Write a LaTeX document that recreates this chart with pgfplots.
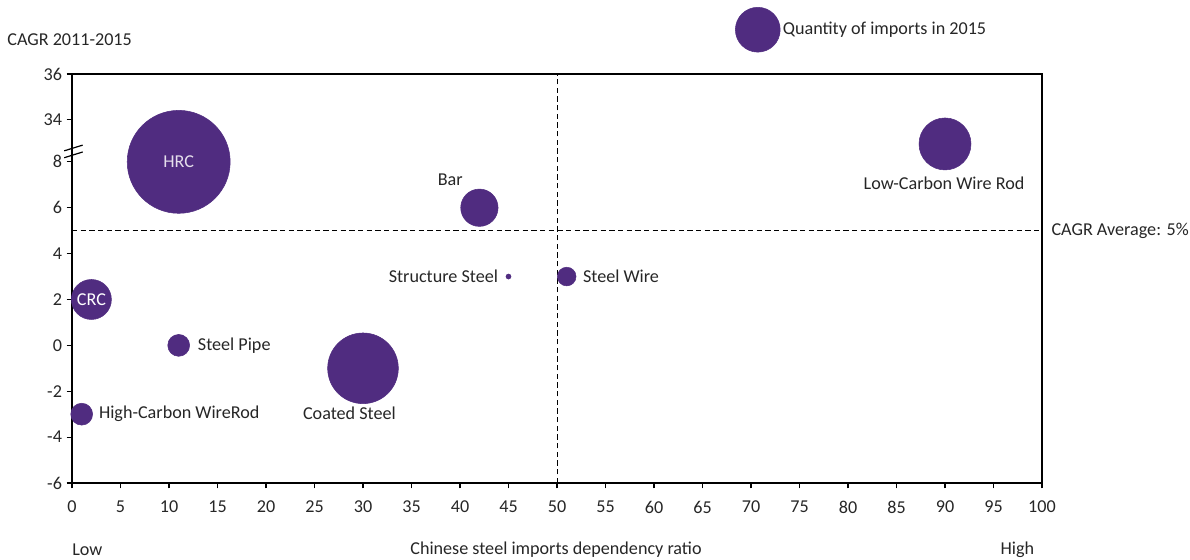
\documentclass[border=0pt]{standalone}
\usepackage{pgfplots}
\pgfplotsset{compat=1.18}
\usepackage{fontspec}
\setmainfont{Carlito}
\definecolor{bub}{RGB}{80,44,128}
\definecolor{txt}{RGB}{38,38,38}
\begin{document}
\begin{tikzpicture}[font=\fontsize{13.6}{16}\selectfont]
\useasboundingbox (-54pt,-57.75pt) rectangle ++(892.5pt,420pt);
\begin{axis}[
  scale only axis,
  width=727.5pt, height=306.75pt,
  xmin=0, xmax=100, ymin=-6, ymax=11.83,
  xtick={0,5,...,100},
  ytick={-6,-4,-2,0,2,4,6,8,9.83,11.83},
  yticklabels={-6,-4,-2,0,2,4,6,8,34,36},
  /pgf/number format/assume math mode=true,
  tick align=outside,
  major tick length=4pt,
  tick style={black, line width=0.9pt},
  axis line style={black, line width=0.9pt},
  xtick pos=bottom, ytick pos=left,
  ticklabel style={text=txt, font=\fontsize{13.6}{16}\selectfont},
  xticklabel style={yshift=-6pt},
  clip=false,
]
% reference lines
\draw[dashed, black, line width=0.5pt, dash pattern=on 4pt off 2.5pt] (axis cs:0,5) -- (axis cs:100,5);
\draw[dashed, black, line width=0.5pt, dash pattern=on 4pt off 2.5pt] (axis cs:50,-6) -- (axis cs:50,11.83);
% bubbles
\addplot[only marks, mark=*, mark size=38.6pt, color=bub] coordinates {(11,8)};
\addplot[only marks, mark=*, mark size=19.5pt, color=bub] coordinates {(90,8.78)};
\addplot[only marks, mark=*, mark size=14pt, color=bub] coordinates {(42,6)};
\addplot[only marks, mark=*, mark size=1.9pt, color=bub] coordinates {(45,3)};
\addplot[only marks, mark=*, mark size=7pt, color=bub] coordinates {(51,3)};
\addplot[only marks, mark=*, mark size=15pt, color=bub] coordinates {(2,2)};
\addplot[only marks, mark=*, mark size=8.2pt, color=bub] coordinates {(11,0)};
\addplot[only marks, mark=*, mark size=26.5pt, color=bub] coordinates {(30,-1)};
\addplot[only marks, mark=*, mark size=8.2pt, color=bub] coordinates {(1,-3)};
% legend bubble
\addplot[only marks, mark=*, mark size=16.8pt, color=bub] coordinates {(70.7,13.76)};
\coordinate (leg) at (axis cs:72.8,13.76);
% label anchors
\coordinate (hrc) at (axis cs:11,8);
\coordinate (crc) at (axis cs:2,2);
\coordinate (bar) at (axis cs:39,7.2);
\coordinate (lcw) at (axis cs:89.9,7.07);
\coordinate (sts) at (axis cs:44.4,3);
\coordinate (stw) at (axis cs:52.2,3);
\coordinate (stp) at (axis cs:12.5,0);
\coordinate (cts) at (axis cs:28.6,-2.97);
\coordinate (hcw) at (axis cs:2.3,-3);
\coordinate (avg) at (axis cs:100.5,5);
% axis break
\draw[black, line width=0.9pt] (axis cs:-0.8,8.18) -- (axis cs:1.1,8.43);
\draw[black, line width=0.9pt] (axis cs:-0.8,8.48) -- (axis cs:1.1,8.73);
\end{axis}
% labels
\node[text=txt, anchor=west] at (leg) {Quantity of imports in 2015};
\node[text=white!85!bub] at (hrc) {HRC};
\node[text=white] at (crc) {CRC};
\node[text=txt] at (bar) {Bar};
\node[text=txt] at (lcw) {Low-Carbon Wire Rod};
\node[text=txt, anchor=east] at (sts) {Structure Steel};
\node[text=txt, anchor=west] at (stw) {Steel Wire};
\node[text=txt, anchor=west] at (stp) {Steel Pipe};
\node[text=txt] at (cts) {Coated Steel};
\node[text=txt, anchor=west] at (hcw) {High-Carbon WireRod};
\node[text=txt, anchor=west] at (avg) {CAGR Average: 5\%};
% outer texts
\node[text=txt, anchor=west] at (-52pt,332.25pt) {CAGR 2011-2015};
\node[text=txt] at (11.5pt,-50pt) {Low};
\node[text=txt] at (363pt,-50pt) {Chinese steel imports dependency ratio};
\node[text=txt] at (709pt,-50pt) {High};
\end{tikzpicture}
\end{document}
